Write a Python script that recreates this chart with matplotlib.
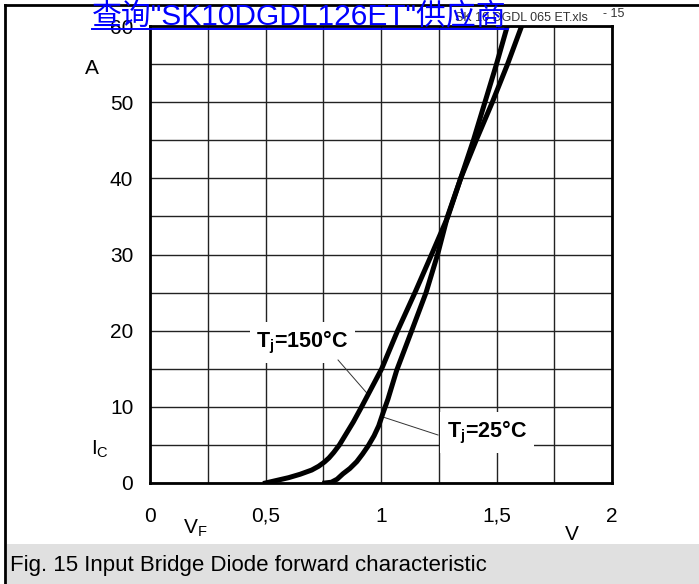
import matplotlib
matplotlib.use("Agg")
import matplotlib.pyplot as plt
from matplotlib.lines import Line2D
from matplotlib.patches import Rectangle

plt.rcParams['font.family'] = ['Liberation Sans', 'Noto Sans CJK SC', 'DejaVu Sans']
plt.rcParams['mathtext.fontset'] = 'custom'
plt.rcParams['mathtext.rm'] = 'Liberation Sans'
plt.rcParams['mathtext.it'] = 'Liberation Sans'
plt.rcParams['mathtext.bf'] = 'Liberation Sans:bold'

# ---- data ----
vf_150 = [0.50, 0.55, 0.60, 0.65, 0.70, 0.73, 0.755, 0.775, 0.795, 0.82, 0.85, 0.88, 0.916, 1.003, 1.072, 1.147, 1.219, 1.29, 1.345, 1.412, 1.482, 1.548, 1.609]
ic_150 = [0.0, 0.35, 0.7, 1.15, 1.7, 2.2, 2.75, 3.3, 4.0, 5.0, 6.5, 8.0, 10, 15, 20, 25, 30, 35, 40, 45, 50, 55, 60]
vf_25 = [0.757, 0.785, 0.81, 0.835, 0.865, 0.895, 0.92, 0.945, 0.97, 0.99, 1.01, 1.03, 1.068, 1.133, 1.195, 1.245, 1.288, 1.345, 1.40, 1.45, 1.50, 1.547]
ic_25 = [0.0, 0.1, 0.5, 1.2, 1.9, 2.8, 3.8, 4.9, 6.2, 7.5, 9.3, 11.0, 14.8, 20, 25, 30, 35, 40, 45, 50, 55, 60]

x_ticks = [0, 0.25, 0.5, 0.75, 1.0, 1.25, 1.5, 1.75, 2.0]
x_tick_labels = ['0', '', '0,5', '', '1', '', '1,5', '', '2']
y_ticks = [0, 5, 10, 15, 20, 25, 30, 35, 40, 45, 50, 55, 60]
y_tick_labels = ['0', '', '10', '', '20', '', '30', '', '40', '', '50', '', '60']

label_150 = r'T$_{\mathbf{j}}$=150°C'
label_25 = r'T$_{\mathbf{j}}$=25°C'
caption = 'Fig. 15 Input Bridge Diode forward characteristic'
link_text = '查询"SK10DGDL126ET"供应商'

W, H = 699, 584
fig = plt.figure(figsize=(W / 100, H / 100), dpi=100)

def fx(px):
    return px / W

def fy(py):
    return 1 - py / H

# axes placement
L, R, T, B = 150, 612, 26, 483
ax = fig.add_axes([fx(L), fy(B), (R - L) / W, (B - T) / H])
ax.set_xlim(0, 2)
ax.set_ylim(0, 60)
ax.set_xticks(x_ticks)
ax.set_xticklabels(x_tick_labels)
ax.set_yticks(y_ticks)
ax.set_yticklabels(y_tick_labels)
ax.tick_params(length=0, labelsize=15, colors='black')
ax.tick_params(axis='x', pad=17)
ax.tick_params(axis='y', pad=12)
ax.grid(True, color='#222222', linewidth=1.0)
ax.set_axisbelow(True)
for s in ax.spines.values():
    s.set_linewidth(2.0)
    s.set_color('black')

ax.plot(vf_150, ic_150, color='black', linewidth=3.6, solid_joinstyle='round', zorder=5)
ax.plot(vf_25, ic_25, color='black', linewidth=3.6, solid_joinstyle='round', zorder=5)

# label boxes
ax.text(0.66, 18.5, label_150, fontsize=15.5, fontweight='bold', ha='center', va='center',
        bbox=dict(facecolor='white', edgecolor='none', pad=5), zorder=4)
ax.text(1.458, 6.6, label_25, fontsize=15.5, fontweight='bold', ha='center', va='center',
        bbox=dict(facecolor='white', edgecolor='none', pad=5), zorder=4)
# leader lines
ax.plot([0.814, 0.939], [16.15, 11.8], color='#333333', linewidth=0.7, zorder=4)
ax.plot([1.009, 1.247], [8.66, 6.3], color='#333333', linewidth=0.7, zorder=4)

# axis labels
fig.text(fx(91.5), fy(68), 'A', fontsize=15, ha='center', va='center')
fig.text(fx(100), fy(449), r'I$_\mathrm{C}$', fontsize=15, ha='center', va='center')
fig.text(fx(195), fy(528), r'V$_\mathrm{F}$', fontsize=15, ha='center', va='center')
fig.text(fx(571.5), fy(535), 'V', fontsize=15, ha='center', va='center')

# header texts
fig.text(fx(455), fy(18), 'SK 10 DGDL 065 ET.xls', fontsize=9, color='#333333', ha='left', va='center')
fig.text(fx(603), fy(14), '- 15', fontsize=9, color='#333333', ha='left', va='center')

# link text
fig.text(fx(92), fy(25), link_text, fontsize=21.5, color='#0000ff', ha='left', va='baseline', zorder=10)
fig.add_artist(Line2D([fx(92), fx(508)], [fy(29), fy(29)], color='#0000ff', linewidth=1.4, zorder=10))

# caption area
fig.add_artist(Rectangle((fx(7), 0), 1 - fx(7), 40 / H, facecolor='#e0e0e0', edgecolor='none', zorder=0))
fig.text(fx(10), fy(565), caption, fontsize=16, ha='left', va='center')

# outer frame
fig.add_artist(Line2D([fx(5), 1], [fy(5), fy(5)], color='black', linewidth=2.0))
fig.add_artist(Line2D([fx(5), fx(5)], [fy(5), 0], color='black', linewidth=2.0))

fig.savefig('out.png', dpi=100)
